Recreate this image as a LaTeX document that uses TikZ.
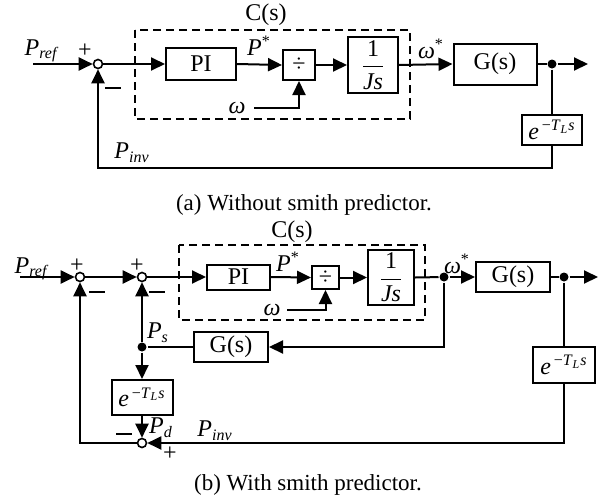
\documentclass[tikz,border=0pt]{standalone}
\usepackage{fontspec}
\setmainfont{Liberation Serif}
\usetikzlibrary{arrows.meta}

\newcommand{\sigP}[1]{\textit{P}\textsubscript{\textit{#1}}}
\newcommand{\delayexp}{\textit{e}\textsuperscript{\,−\textit{T}\textsubscript{\textit{L}}\textit{s}}}
\newcommand{\invJs}{$\displaystyle\frac{\mbox{1}}{\mbox{\itshape Js}}$}
\newcommand{\minussign}{\rule{8pt}{1.2pt}}

\begin{document}
\begin{tikzpicture}[x=0.5pt,y=-0.5pt,line width=1pt,
  font=\fontsize{12}{14}\selectfont,
  block/.style={draw,line width=1pt,inner sep=0pt},
  sumnode/.style={circle,draw,fill=white,line width=0.8pt,inner sep=0pt,minimum size=4.5pt},
  dotnode/.style={circle,fill,inner sep=0pt,minimum size=4.5pt},
  sig/.style={-{Triangle[length=7pt,width=6.5pt]}},
  cbox/.style={draw,dashed,dash pattern=on 4pt off 2.5pt,line width=1pt},
  lbl/.style={inner sep=0pt},
  caption/.style={inner sep=0pt,font=\fontsize{11.5}{14}\selectfont}]
\useasboundingbox (0,0) rectangle (601,499);

% (a) without smith predictor
\draw[cbox] (135,30) rectangle (410,119);
\node[lbl] (csa) at (266,15) {C(s)};
\coordinate (ra) at (33,64);
\node[sumnode] (sa) at (98,64) {};
\node[block,minimum width=35pt,minimum height=16pt] (pia) at (201,64) {PI};
\node[block,minimum width=16pt,minimum height=15pt] (diva) at (299,65) {÷};
\node[block,minimum width=25pt,minimum height=28pt] (jsa) at (373,65) {\invJs};
\node[block,minimum width=41.5pt,minimum height=20.5pt] (ga) at (495,64) {G(s)};
\node[dotnode] (outa) at (552,64) {};
\coordinate (ya) at (588,64);
\node[block,minimum width=30pt,minimum height=15pt] (dela) at (552,130) {\delayexp};
\coordinate (wa) at (254,108);
\coordinate (fba) at (552,168);

\draw[sig] (ra) -- (sa.west);
\draw[sig] (sa.east) -- (pia.west);
\draw[sig] (pia.east) -- (diva.west);
\draw[sig] (diva.east) -- (jsa.west);
\draw[sig] (jsa.east) -- (ga.west);
\draw (ga.east) -- (outa);
\draw[sig] (outa) -- (ya);
\draw (outa) -- (dela.north);
\draw[sig] (wa) -| (diva.south);
\draw[sig] (dela.south) -- (fba) -| (sa.south);

\node[lbl] (prefa) at (42,51) {\sigP{ref}};
\node[lbl] (pla) at (85,51) {+};
\node[lbl] (mna) at (113,88) {\minussign};
\node[lbl] (psta) at (259,46) {\textit{P}\textsuperscript{*}};
\node[lbl] (oma) at (237,108) {\textit{ω}};
\node[lbl] (omsa) at (431,49) {\textit{ω}\textsuperscript{*}};
\node[lbl] (pinva) at (132,153) {\sigP{inv}};
\node[caption] (capa) at (304,205) {(a) Without smith predictor.};

% (b) with smith predictor
\draw[cbox] (179,245) rectangle (425,320);
\node[lbl] (csb) at (292,232) {C(s)};
\coordinate (rb) at (20,277);
\node[sumnode] (sb1) at (80,277) {};
\node[sumnode] (sb2) at (142,277) {};
\node[block,minimum width=31.5pt,minimum height=12.5pt] (pib) at (238.5,277) {PI};
\node[block,minimum width=13.5pt,minimum height=11.5pt] (divb) at (325.5,277.5) {÷};
\node[block,minimum width=23pt,minimum height=27.5pt] (jsb) at (391,277.5) {\invJs};
\node[dotnode] (jb) at (444,277) {};
\node[block,minimum width=37pt,minimum height=15pt] (gb1) at (513,277) {G(s)};
\node[dotnode] (outb) at (564,277) {};
\coordinate (yb) at (598,277);
\node[block,minimum width=31pt,minimum height=18pt] (delb2) at (564,365) {\delayexp};
\node[block,minimum width=37pt,minimum height=15pt] (gb2) at (231,347) {G(s)};
\node[dotnode] (psb) at (142,347) {};
\node[block,minimum width=30.5pt,minimum height=17.5pt] (delb1) at (142,397.5) {\delayexp};
\node[sumnode] (sb3) at (142,443) {};
\coordinate (wb) at (287,310);

\draw[sig] (rb) -- (sb1.west);
\draw[sig] (sb1.east) -- (sb2.west);
\draw[sig] (sb2.east) -- (pib.west);
\draw[sig] (pib.east) -- (divb.west);
\draw[sig] (divb.east) -- (jsb.west);
\draw (jsb.east) -- (jb);
\draw[sig] (jb) -- (gb1.west);
\draw (gb1.east) -- (outb);
\draw[sig] (outb) -- (yb);
\draw[sig] (wb) -| (divb.south);
\draw[sig] (jb) |- (gb2.east);
\draw (gb2.west) -- (psb);
\draw[sig] (psb) -- (sb2.south);
\draw[sig] (psb) -- (delb1.north);
\draw[sig] (delb1.south) -- (sb3.north);
\draw (outb) -- (delb2.north);
\draw[sig] (delb2.south) |- (sb3.east);
\draw[sig] (sb3.west) -| (sb1.south);

\node[lbl] (prefb) at (32,269) {\sigP{ref}};
\node[lbl] (plb1) at (77,266) {+};
\node[lbl] (mnb1) at (97,292) {\minussign};
\node[lbl] (plb2) at (137,266) {+};
\node[lbl] (mnb2) at (157,292) {\minussign};
\node[lbl] (pstb) at (288,262) {\textit{P}\textsuperscript{*}};
\node[lbl] (omb) at (272,310) {\textit{ω}};
\node[lbl] (omsb) at (457,264) {\textit{ω}\textsuperscript{*}};
\node[lbl] (psl) at (158,333) {\sigP{s}};
\node[lbl] (pdl) at (161,428) {\sigP{d}};
\node[lbl] (pinvb) at (215,431) {\sigP{inv}};
\node[lbl] (mnb3) at (124,434) {\minussign};
\node[lbl] (plb3) at (170,454) {+};
\node[caption] (capb) at (308,485) {(b) With smith predictor.};
\end{tikzpicture}
\end{document}
